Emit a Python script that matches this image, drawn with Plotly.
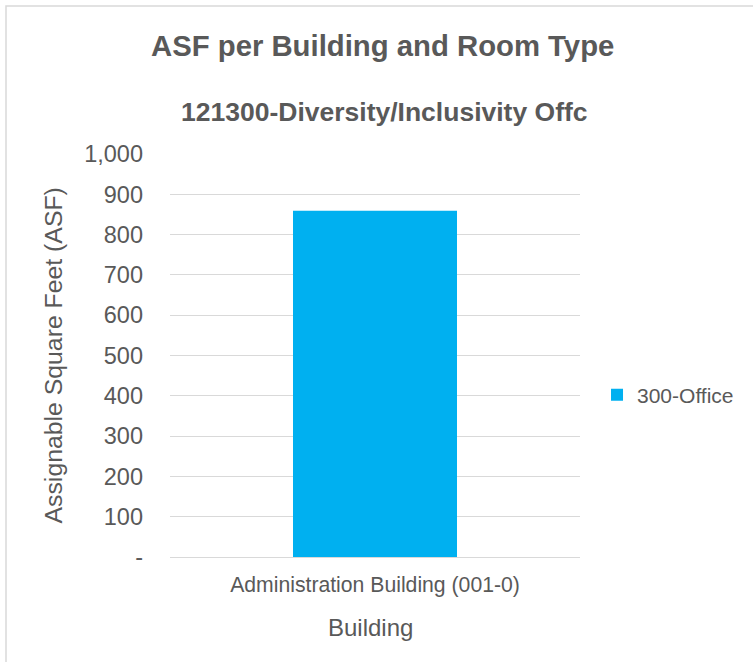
import plotly.graph_objects as go

# Data
buildings = ["Administration Building (001-0)"]
series_name = "300-Office"
asf_values = [859]
y_tick_vals = [0, 100, 200, 300, 400, 500, 600, 700, 800, 900, 1000]
y_tick_text = ["-", "100", "200", "300", "400", "500", "600", "700", "800", "900", "1,000"]

title_text = "ASF per Building and Room Type"
subtitle_text = "121300-Diversity/Inclusivity Offc"
x_title = "Building"
y_title = "Assignable Square Feet (ASF)"

TXT = "#595959"
GRID = "#D9D9D9"
FONT = "Liberation Sans, Arial, sans-serif"

fig = go.Figure()
fig.add_trace(go.Bar(
    x=buildings, y=asf_values, name=series_name,
    marker=dict(color="#00B0F0", line=dict(width=0)),
    width=0.4,
))

fig.update_layout(
    width=753, height=662,
    margin=dict(l=170, r=173, t=154, b=105, autoexpand=False),
    paper_bgcolor="white", plot_bgcolor="white",
    font=dict(family=FONT, color=TXT),
    showlegend=True,
    legend=dict(x=1.0415, y=0.402, xanchor="left", yanchor="middle",
                font=dict(size=21, color=TXT), itemwidth=30,
                bgcolor="rgba(0,0,0,0)"),
    xaxis=dict(range=[-0.5, 0.5], showgrid=False, zeroline=False,
               showline=False, ticks="", tickfont=dict(size=21.2, color=TXT),
               ticklabelstandoff=13, fixedrange=True),
    yaxis=dict(range=[0, 1000], tickvals=y_tick_vals, ticktext=y_tick_text,
               showgrid=True, gridcolor=GRID, gridwidth=1.3,
               zeroline=True, zerolinecolor=GRID, zerolinewidth=1.3,
               showline=False, ticks="", tickfont=dict(size=23.5, color=TXT),
               ticklabelstandoff=26, fixedrange=True),
    annotations=[
        dict(text="<b>" + title_text + "</b>", xref="paper", yref="paper",
             x=0.5195, y=1.27, xanchor="center", yanchor="middle",
             showarrow=False, font=dict(size=29.3, color=TXT)),
        dict(text="<b>" + subtitle_text + "</b>", xref="paper", yref="paper",
             x=0.522, y=1.104, xanchor="center", yanchor="middle",
             showarrow=False, font=dict(size=26.5, color=TXT)),
        dict(text=y_title, xref="paper", yref="paper",
             x=-0.283, y=0.5, xanchor="center", yanchor="middle",
             textangle=-90, showarrow=False, font=dict(size=24.8, color=TXT)),
        dict(text=x_title, xref="paper", yref="paper",
             x=0.49, y=-0.176, xanchor="center", yanchor="middle",
             showarrow=False, font=dict(size=24, color=TXT)),
    ],
    shapes=[
        dict(type="rect", xref="paper", yref="paper",
             x0=(6 - 170) / 410, x1=(770 - 170) / 410,
             y0=(557 - 680) / 403, y1=(557 - 6) / 403,
             line=dict(color=GRID, width=1.5), fillcolor="rgba(0,0,0,0)",
             layer="below"),
    ],
)

fig.write_html("out.html", config={"displayModeBar": False},
               post_script="document.body.style.margin='0';document.body.style.overflow='hidden';")
